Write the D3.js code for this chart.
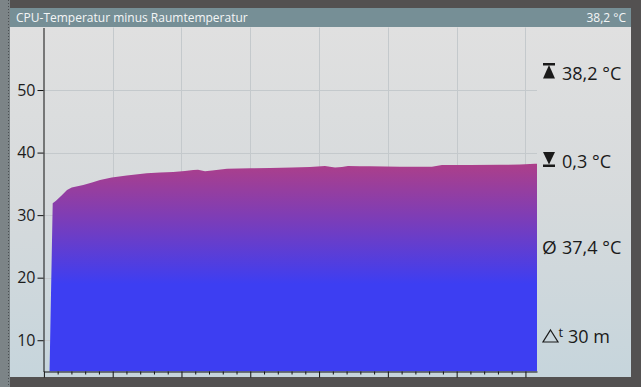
<!DOCTYPE html>
<html>
<head>
<meta charset="utf-8">
<script src="https://cdn.jsdelivr.net/npm/d3@7"></script>
<style>
  html, body { margin: 0; padding: 0; background: #535151; }
  svg { display: block; font-family: "Open Sans", "Noto Sans", sans-serif; }
</style>
</head>
<body>
<svg id="chart" width="641" height="387"></svg>
<script>
// sample position (one unit = one x tick) and temperature difference in °C
const sampleT = [0.37, 0.64, 0.88, 1.32, 1.68, 2.02, 2.86, 3.50, 4.08, 4.93,
  6.02, 7.47, 8.44, 9.40, 10.25, 10.86, 11.20, 11.71, 12.22, 13.31,
  14.98, 16.45, 18.03, 19.34, 20.43, 20.79, 21.16, 21.66, 22.10, 22.97,
  23.70, 25.88, 28.20, 28.93, 30.97, 33.15, 34.60, 35.70, 35.84];
const sampleV = [0.3, 31.9, 32.3, 33.2, 34.0, 34.4, 34.8, 35.2, 35.6, 36.0,
  36.35, 36.7, 36.8, 36.9, 37.05, 37.2, 37.25, 37.0, 37.15, 37.4,
  37.5, 37.55, 37.6, 37.7, 37.85, 37.75, 37.6, 37.7, 37.85, 37.8,
  37.8, 37.75, 37.75, 38.0, 38.0, 38.05, 38.1, 38.2, 38.2];

const yTicks = [10, 20, 30, 40, 50];
const titleText = 'CPU-Temperatur minus Raumtemperatur';
const currentText = '38,2 °C';
const statMax = '38,2 °C';
const statMin = '0,3 °C';
const statAvg = '37,4 °C';
const statSpan = '30 m';

const data = sampleT.map((t, i) => ({ t: t, v: sampleV[i] }));

const svg = d3.select('#chart');
const pLeft = 43.5, pRight = 537, pTop = 27.5, pBottom = 371.5;

const x = d3.scaleLinear().domain([0, 35.84]).range([pLeft + 0.4, pRight]);
const y = d3.scaleLinear().domain([5, 60]).range([pBottom, pTop]);

const defs = svg.append('defs');
const bg = defs.append('linearGradient').attr('id', 'bg')
  .attr('x1', 0).attr('y1', 0).attr('x2', 0).attr('y2', 1);
bg.append('stop').attr('offset', 0).attr('stop-color', '#e0e0e0');
bg.append('stop').attr('offset', 0.5).attr('stop-color', '#d6dadc');
bg.append('stop').attr('offset', 1).attr('stop-color', '#c6d5dc');

const fillGrad = defs.append('linearGradient').attr('id', 'fillGrad')
  .attr('gradientUnits', 'userSpaceOnUse')
  .attr('x1', 0).attr('x2', 0)
  .attr('y1', y(38.5)).attr('y2', y(19));
fillGrad.append('stop').attr('offset', 0).attr('stop-color', '#ae3f88');
fillGrad.append('stop').attr('offset', 0.45).attr('stop-color', '#7e3db6');
fillGrad.append('stop').attr('offset', 1).attr('stop-color', '#3d3ef2');

defs.append('clipPath').attr('id', 'plotClip')
  .append('rect').attr('x', pLeft).attr('y', pTop)
  .attr('width', pRight - pLeft).attr('height', pBottom - pTop);

// frame
svg.append('rect').attr('width', 641).attr('height', 387).attr('fill', '#535151');
svg.append('rect').attr('x', 0).attr('y', 0).attr('width', 10).attr('height', 387).attr('fill', '#7c8487');
svg.append('line').attr('x1', 8.5).attr('x2', 8.5).attr('y1', 0).attr('y2', 387)
  .attr('stroke', '#4a4f52').attr('stroke-dasharray', '1,2');
svg.append('rect').attr('x', 10).attr('y', 27).attr('width', 621).attr('height', 350).attr('fill', 'url(#bg)');
svg.append('rect').attr('x', 10).attr('y', 8).attr('width', 621).attr('height', 19).attr('fill', '#768f96');

svg.append('text').attr('x', 16).attr('y', 22).attr('fill', '#f4f6f6')
  .attr('font-size', 12).text(titleText);
svg.append('text').attr('x', 626).attr('y', 22).attr('fill', '#f4f6f6')
  .attr('font-size', 12).attr('text-anchor', 'end').text(currentText);

// grid
const grid = svg.append('g').attr('stroke', '#c4c9cc').attr('stroke-width', 1);
grid.selectAll('line.h').data(yTicks).join('line').attr('class', 'h')
  .attr('x1', pLeft).attr('x2', pRight)
  .attr('y1', d => Math.round(y(d)) + 0.5).attr('y2', d => Math.round(y(d)) + 0.5);
grid.selectAll('line.v').data(d3.range(5, 36, 5)).join('line').attr('class', 'v')
  .attr('y1', pTop).attr('y2', pBottom)
  .attr('x1', d => Math.round(x(d)) + 0.5).attr('x2', d => Math.round(x(d)) + 0.5);

// area
const area = d3.area().x(d => x(d.t)).y0(y(5)).y1(d => y(d.v));
svg.append('path').datum(data).attr('clip-path', 'url(#plotClip)')
  .attr('fill', 'url(#fillGrad)').attr('d', area);

// axes
const yAxis = svg.append('g').attr('transform', `translate(${pLeft},0)`)
  .call(d3.axisLeft(y).tickValues(yTicks).tickSize(6).tickSizeOuter(0).tickPadding(2));
yAxis.selectAll('text').attr('font-size', 16).attr('fill', '#1c1c1c')
  .attr('font-family', '"Open Sans", "Noto Sans", sans-serif');
yAxis.selectAll('line, path').attr('stroke', '#111');

const xAxis = svg.append('g').attr('transform', `translate(0,${pBottom})`)
  .call(d3.axisBottom(x).tickValues(d3.range(0, 36)).tickSize(3).tickSizeOuter(0).tickFormat(''));
xAxis.selectAll('.tick line').attr('y2', d => d % 5 === 0 ? 6 : 3);
xAxis.selectAll('line, path').attr('stroke', '#111');

// statistics on the right
const stats = svg.append('g').attr('fill', '#1a1a1a').attr('font-size', 18);
const ix = 543, tx = 562;

// max icon: bar over up-triangle
stats.append('rect').attr('x', ix).attr('y', 63).attr('width', 12).attr('height', 2.5);
stats.append('path').attr('d', `M${ix + 6},65 L${ix + 12},78.5 L${ix},78.5 Z`);
stats.append('text').attr('x', tx).attr('y', 79.5).text(statMax);

// min icon: down-triangle over bar
stats.append('path').attr('d', `M${ix},152 L${ix + 12},152 L${ix + 6},164.5 Z`);
stats.append('rect').attr('x', ix).attr('y', 164.5).attr('width', 12).attr('height', 2.5);
stats.append('text').attr('x', tx).attr('y', 167.7).text(statMin);

stats.append('text').attr('x', ix - 1).attr('y', 254.3).attr('font-size', 19).text('Ø');
stats.append('text').attr('x', tx).attr('y', 254.3).text(statAvg);

// delta-t icon: outlined triangle with raised t
stats.append('path').attr('d', `M${ix + 7.5},330 L${ix + 15},342 L${ix},342 Z`)
  .attr('fill', 'none').attr('stroke', '#1a1a1a').attr('stroke-width', 1.2);
stats.append('text').attr('x', ix + 15.5).attr('y', 337).attr('font-size', 13).text('t');
stats.append('text').attr('x', 568).attr('y', 342.7).text(statSpan);
</script>
</body>
</html>
